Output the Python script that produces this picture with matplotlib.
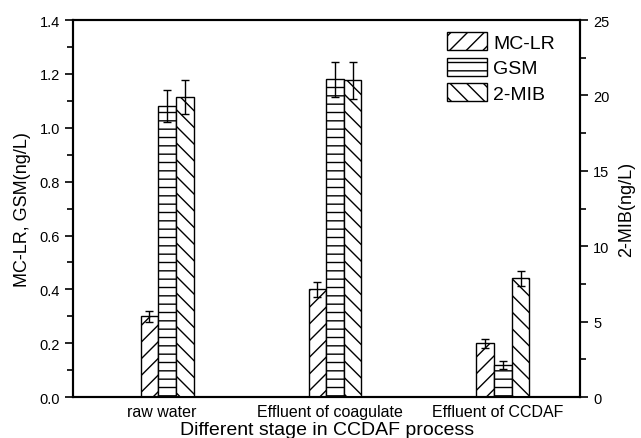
import numpy as np
import matplotlib
matplotlib.use("Agg")
import matplotlib.pyplot as plt
from matplotlib.ticker import MultipleLocator

plt.rcParams['font.family'] = ['Liberation Sans', 'DejaVu Sans']
plt.rcParams['hatch.linewidth'] = 1.0

stages = ["raw water", "Effluent of coagulate", "Effluent of CCDAF"]
mclr = [0.30, 0.40, 0.20]
mclr_err = [0.02, 0.028, 0.016]
gsm = [1.08, 1.18, 0.12]
gsm_err = [0.06, 0.066, 0.014]
mib = [19.9, 21.0, 7.87]
mib_err = [1.12, 1.25, 0.5]

fig = plt.figure(figsize=(6.41, 4.39), dpi=100)
ax = fig.add_axes([0.114, 0.093, 0.791, 0.859])
ax2 = ax.twinx()

x = np.arange(1, 4)
w = 0.105
c = x + 0.03
ekw = dict(ecolor="black", elinewidth=1.0, capsize=3, capthick=1.0)

b1 = ax.bar(c - w, mclr, w, yerr=mclr_err, color="white", edgecolor="black",
            linewidth=1.0, hatch="//", error_kw=ekw, label="MC-LR")
b2 = ax.bar(c, gsm, w, yerr=gsm_err, color="white", edgecolor="black",
            linewidth=1.0, hatch="--", error_kw=ekw, label="GSM")
b3 = ax2.bar(c + w, mib, w, yerr=mib_err, color="white", edgecolor="black",
             linewidth=1.0, hatch="\\\\", error_kw=ekw, label="2-MIB")

ax.set_xlim(0.47, 3.49)
ax.set_ylim(0, 1.4)
ax2.set_ylim(0, 25)

ax.yaxis.set_major_locator(MultipleLocator(0.2))
ax.yaxis.set_minor_locator(MultipleLocator(0.1))
ax2.yaxis.set_major_locator(MultipleLocator(5))
ax2.yaxis.set_minor_locator(MultipleLocator(2.5))
ax.set_yticklabels([f"{v:.1f}" for v in ax.get_yticks()])

ax.set_xticks(x)
ax.set_xticklabels(stages, fontsize=11.5)
ax.tick_params(axis="x", length=0, pad=5)
ax.tick_params(axis="y", which="major", direction="out", length=6, width=1.2, labelsize=10.5)
ax.tick_params(axis="y", which="minor", direction="out", length=4, width=1.2)
ax2.tick_params(axis="y", which="major", direction="out", length=6, width=1.2, labelsize=10.5)
ax2.tick_params(axis="y", which="minor", direction="out", length=4, width=1.2)

for a in (ax, ax2):
    for s in a.spines.values():
        s.set_linewidth(1.5)

ax.set_xlabel("Different stage in CCDAF process", fontsize=14, labelpad=1)
ax.set_ylabel("MC-LR, GSM(ng/L)", fontsize=13, labelpad=6)
ax2.set_ylabel("2-MIB(ng/L)", fontsize=13, labelpad=6)

ax2.legend([b1, b2, b3], ["MC-LR", "GSM", "2-MIB"], loc="upper left",
           bbox_to_anchor=(0.738, 0.968), frameon=False, fontsize=14,
           handlelength=2.05, handleheight=1.05, labelspacing=0.3,
           handletextpad=0.3, borderpad=0, borderaxespad=0)

fig.savefig("out.png", dpi=100)
